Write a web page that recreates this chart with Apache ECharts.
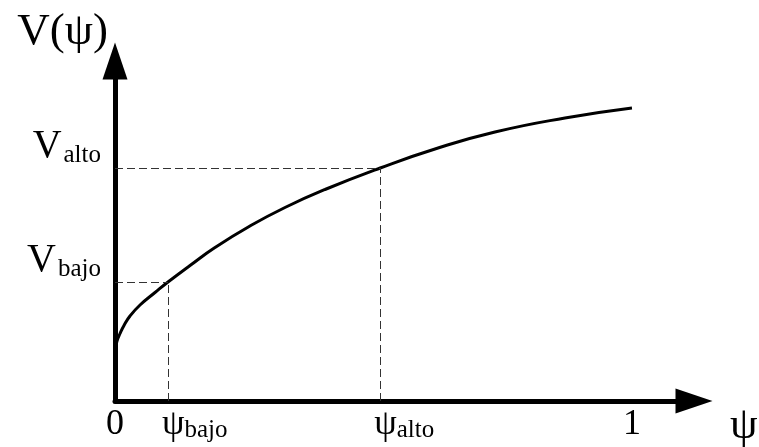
<!DOCTYPE html>
<html>
<head>
<meta charset="utf-8">
<script src="https://cdn.jsdelivr.net/npm/echarts@6/dist/echarts.min.js"></script>
<style>
  html, body { margin: 0; padding: 0; background: #fff; }
  #chart { width: 759px; height: 447px; }
</style>
</head>
<body>
<div id="chart"></div>
<script>
// Curve V(psi): psi in [0, 1]
const psiValues = [0, 0.0039, 0.0097, 0.0174, 0.029, 0.0484, 0.0774, 0.1025, 0.1451, 0.1934, 0.2611, 0.3288, 0.4062, 0.513, 0.619, 0.735, 0.8704, 1.0];
const vValues   = [51, 60, 67.5, 75.5, 85, 96, 108.5, 119, 135.5, 153.5, 175, 193.5, 211.5, 233, 252, 269, 283, 293];

// Marked levels
const psiBajo = 0.1025, vBajo = 119;
const psiAlto = 0.513,  vAlto = 233;

// Tick label positions on each axis
const xTickValues = [0, psiBajo, psiAlto, 1];
const yTickValues = [vBajo, vAlto];

const serif = '"Liberation Serif", "DejaVu Serif", serif';

const curve = psiValues.map((p, i) => [p, vValues[i]]);

const chart = echarts.init(document.getElementById('chart'), null, { renderer: 'canvas' });

chart.setOption({
  animation: false,
  backgroundColor: '#ffffff',
  grid: { left: 115, right: 65, top: 61, bottom: 46, containLabel: false, outerBoundsMode: 'none' },
  xAxis: {
    type: 'value',
    min: 0,
    max: 1.12,
    splitLine: { show: false },
    axisTick: { show: false },
    axisLine: {
      lineStyle: { color: '#000', width: 5 },
      symbol: ['none', 'triangle'],
      symbolSize: [25, 37]
    },
    axisLabel: {
      customValues: xTickValues,
      hideOverlap: false,
      showMinLabel: true,
      showMaxLabel: true,
      margin: 6,
      align: 'left',
      alignMinLabel: 'center',
      alignMaxLabel: 'center',
      fontFamily: serif,
      color: '#000',
      fontSize: 36,
      formatter: function (v) {
        if (v === psiBajo) return '{p|ψ}{s|bajo}';
        if (v === psiAlto) return '{p|ψ}{s|alto}';
        return String(v);
      },
      rich: {
        p: { fontFamily: serif, fontSize: 36, color: '#000', padding: [0, 0, 0, -6] },
        s: { fontFamily: serif, fontSize: 25, color: '#000', verticalAlign: 'bottom' }
      }
    },
    name: 'ψ',
    nameLocation: 'end',
    nameGap: 36,
    nameTextStyle: {
      fontFamily: serif,
      fontSize: 44,
      color: '#000',
      align: 'left',
      verticalAlign: 'top',
      padding: [3, 0, 0, 0]
    }
  },
  yAxis: {
    type: 'value',
    min: 0,
    max: 340,
    splitLine: { show: false },
    axisTick: { show: false },
    axisLine: {
      lineStyle: { color: '#000', width: 5 },
      symbol: ['none', 'triangle'],
      symbolSize: [25, 37]
    },
    axisLabel: {
      customValues: yTickValues,
      hideOverlap: false,
      margin: 14,
      align: 'right',
      verticalAlign: 'bottom',
      fontFamily: serif,
      color: '#000',
      formatter: function (v) {
        return v === vBajo ? '{v|V}{s|bajo}' : '{v|V}{s|alto}';
      },
      rich: {
        v: { fontFamily: serif, fontSize: 40, color: '#000', padding: [0, 2, 2, 0] },
        s: { fontFamily: serif, fontSize: 25, color: '#000', verticalAlign: 'bottom' }
      }
    },
    name: 'V(ψ)',
    nameLocation: 'end',
    nameGap: 6,
    nameTextStyle: {
      fontFamily: serif,
      fontSize: 45,
      color: '#000',
      align: 'right',
      verticalAlign: 'bottom',
      padding: [0, 7, 0, 0]
    }
  },
  series: [{
    type: 'line',
    data: curve,
    smooth: 0.5,
    showSymbol: false,
    silent: true,
    lineStyle: { color: '#000', width: 3 },
    markLine: {
      silent: true,
      symbol: ['none', 'none'],
      label: { show: false },
      lineStyle: { color: '#333', width: 1, type: [8, 4] },
      data: [
        [{ coord: [0, vBajo] }, { coord: [psiBajo, vBajo] }],
        [{ coord: [psiBajo, 0] }, { coord: [psiBajo, vBajo] }],
        [{ coord: [0, vAlto] }, { coord: [psiAlto, vAlto] }],
        [{ coord: [psiAlto, 0] }, { coord: [psiAlto, vAlto] }]
      ]
    }
  }]
});
</script>
</body>
</html>
